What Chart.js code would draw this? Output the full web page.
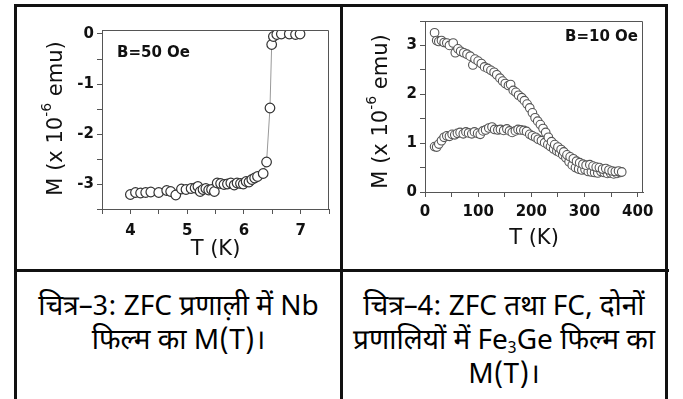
<!DOCTYPE html>
<html lang="hi">
<head>
  <meta charset="UTF-8">
  <title>M(T) – Nb और Fe3Ge फिल्म</title>
  <script src="https://cdn.jsdelivr.net/npm/chart.js"></script>
  <style>
    body {
      margin: 0;
      width: 683px;
      height: 399px;
      overflow: hidden;
      position: relative;
      background: #fff;
    }
    .frame {
      position: absolute;
      left: 14px;
      top: 4px;
      width: 648px;
      height: 400px;
      border: 3px solid #111;
      border-bottom: none;
    }
    .vline {
      position: absolute;
      left: 340px;
      top: 4px;
      width: 3px;
      height: 399px;
      background: #111;
    }
    .hline {
      position: absolute;
      left: 14px;
      top: 269px;
      width: 655px;
      height: 3px;
      background: #111;
    }
    .cell {
      position: absolute;
      top: 7px;
      height: 262px;
    }
    .cap {
      position: absolute;
      top: 291px;
      text-align: center;
      font-family: "Noto Sans Devanagari", "Lohit Devanagari", "Noto Sans", sans-serif;
      font-size: 28px;
      line-height: 34px;
      color: #000;
      white-space: nowrap;
    }
    .cap sub {
      font-size: 16px;
      line-height: 0;
      vertical-align: -4px;
    }
  </style>
</head>
<body>
  <div class="frame"></div>
  <div class="vline"></div>
  <div class="hline"></div>

  <div class="cell" style="left:17px; width:323px;"><canvas id="nbChart" width="323" height="262"></canvas></div>
  <div class="cell" style="left:343px; width:322px;"><canvas id="feChart" width="322" height="262"></canvas></div>

  <div class="cap" style="left:17px; width:323px;">चित्र–3: ZFC प्रणाल़ी में Nb<br>फिल्म का M(T)।</div>
  <div class="cap" style="left:343px; width:322px;">चित्र–4: ZFC तथा FC, दोनों<br>प्रणालियों में Fe<sub>3</sub>Ge फिल्म का<br>M(T)।</div>

  <script>
    // Nb फिल्म, ZFC, B = 50 Oe
    const nbT = [4.00, 4.09, 4.18, 4.27, 4.36, 4.50, 4.64, 4.71, 4.80, 4.90, 4.98, 5.07, 5.14, 5.19, 5.23,
                 5.28, 5.33, 5.38, 5.43, 5.48, 5.53, 5.59, 5.65, 5.71, 5.77, 5.83, 5.88, 5.94, 5.99, 6.04,
                 6.09, 6.14, 6.19, 6.24, 6.34, 6.40, 6.46, 6.49, 6.52, 6.58, 6.66, 6.80, 6.91, 6.99];
    const nbM = [-3.21, -3.17, -3.18, -3.17, -3.16, -3.17, -3.13, -3.15, -3.22, -3.10, -3.11, -3.09, -3.08, -3.05, -3.15,
                 -3.11, -3.09, -3.12, -3.11, -3.15, -2.98, -2.99, -3.01, -3.00, -2.98, -3.02, -2.98, -2.99, -3.00, -2.95,
                 -2.96, -2.91, -2.88, -2.85, -2.79, -2.56, -1.48, -0.21, -0.05, -0.01, 0.00, 0.00, -0.01, 0.00];
    const nbXTicks = [3.5, 4, 4.5, 5, 5.5, 6, 6.5, 7, 7.5];
    const nbYTicks = [-3.5, -3, -2.5, -2, -1.5, -1, -0.5, 0];

    // Fe3Ge फिल्म, FC और ZFC, B = 10 Oe
    const feFcT = [18, 22, 26, 31, 36, 41, 46, 53, 57, 62, 67, 73, 79, 85, 90, 94, 100, 106, 112, 118,
                   124, 130, 135, 141, 146, 151, 157, 161, 166, 171, 176, 182, 187, 192, 197, 202, 207, 212, 217, 222,
                   227, 232, 238, 244, 250, 256, 261, 267, 273, 279, 285, 291, 297, 303, 310, 316, 322, 328, 334, 340,
                   346, 352, 358, 364, 370];
    const feFcM = [3.26, 3.10, 3.08, 3.10, 3.06, 3.05, 3.00, 3.05, 2.85, 2.93, 2.88, 2.85, 2.82, 2.78, 2.60, 2.72, 2.68, 2.63, 2.56, 2.53,
                   2.49, 2.45, 2.40, 2.33, 2.27, 2.22, 2.18, 2.20, 2.08, 2.04, 1.98, 1.93, 1.87, 1.80, 1.72, 1.62, 1.52, 1.45, 1.38, 1.30,
                   1.22, 1.12, 1.03, 0.97, 0.92, 0.87, 0.82, 0.76, 0.72, 0.68, 0.63, 0.60, 0.57, 0.55, 0.56, 0.53, 0.51, 0.50, 0.47, 0.48,
                   0.45, 0.43, 0.42, 0.43, 0.41];
    const feZfcT = [18, 22, 26, 31, 36, 41, 46, 51, 56, 61, 66, 72, 77, 82, 88, 93, 99, 104, 109, 114,
                    120, 126, 131, 137, 142, 148, 154, 159, 164, 170, 175, 180, 186, 191, 197, 202, 208, 213, 219, 225,
                    231, 236, 242, 248, 253, 259, 265, 271, 277, 283, 289, 295, 301, 307, 313, 319, 325, 331, 337, 343,
                    349, 355, 361, 367];
    const feZfcM = [0.93, 0.92, 0.98, 1.05, 1.12, 1.15, 1.14, 1.18, 1.17, 1.20, 1.22, 1.19, 1.23, 1.21, 1.19, 1.23, 1.20, 1.18, 1.25, 1.27,
                    1.31, 1.33, 1.28, 1.27, 1.28, 1.26, 1.29, 1.25, 1.22, 1.25, 1.28, 1.27, 1.26, 1.24, 1.18, 1.15, 1.12, 1.08, 1.05, 1.01,
                    0.97, 0.93, 0.88, 0.84, 0.81, 0.76, 0.70, 0.62, 0.55, 0.50, 0.47, 0.45, 0.46, 0.42, 0.41, 0.40, 0.39, 0.42, 0.40, 0.38,
                    0.39, 0.37, 0.38, 0.40];
    const feXTicks = [0, 50, 100, 150, 200, 250, 300, 350, 400];
    const feYTicks = [0, 0.5, 1, 1.5, 2, 2.5, 3, 3.5];

    const yTitle = ['M (x 10', '-6', ' emu)'];
    const xTitle = 'T (K)';

    const pairs = (xs, ys) => xs.map((x, i) => ({ x: x, y: ys[i] }));

    // frame on top/right, the field note and the y title with its superscript
    const panelText = {
      id: 'panelText',
      afterDraw(chart, args, opts) {
        const { ctx, chartArea: a } = chart;
        ctx.save();
        ctx.strokeStyle = '#555';
        ctx.lineWidth = 1;
        ctx.beginPath();
        ctx.moveTo(a.left, a.top + 0.5);
        ctx.lineTo(a.right - 0.5, a.top + 0.5);
        ctx.lineTo(a.right - 0.5, a.bottom);
        ctx.stroke();

        ctx.fillStyle = '#111';
        ctx.font = 'bold 15px "DejaVu Sans"';
        ctx.textBaseline = 'alphabetic';
        ctx.textAlign = opts.noteAlign;
        const nx = opts.noteAlign === 'left' ? a.left + opts.noteDx : a.right - opts.noteDx;
        ctx.fillText(opts.note, nx, a.top + opts.noteDy);

        ctx.translate(a.left - opts.titleDx, (a.top + a.bottom) / 2 + opts.titleDy);
        ctx.rotate(-Math.PI / 2);
        ctx.textAlign = 'left';
        ctx.font = '21px "DejaVu Sans"';
        const w1 = ctx.measureText(yTitle[0]).width;
        const w3 = ctx.measureText(yTitle[2]).width;
        ctx.font = '14px "DejaVu Sans"';
        const w2 = ctx.measureText(yTitle[1]).width;
        let x = -(w1 + w2 + w3) / 2;
        ctx.font = '21px "DejaVu Sans"';
        ctx.fillText(yTitle[0], x, 0);
        x += w1;
        ctx.font = '14px "DejaVu Sans"';
        ctx.fillText(yTitle[1], x, -11);
        x += w2;
        ctx.font = '21px "DejaVu Sans"';
        ctx.fillText(yTitle[2], x, 0);
        ctx.restore();
      }
    };

    function axis(tickVals, labelIf, extra) {
      const cfg = Object.assign({
        type: 'linear',
        afterBuildTicks: s => { s.ticks = tickVals.map(v => ({ value: v })); },
        grid: { drawOnChartArea: false, drawTicks: true, tickLength: 5, color: '#555', lineWidth: 1 },
        border: { display: true, color: '#555', width: 1 }
      }, extra);
      cfg.ticks = Object.assign({
        autoSkip: false,
        maxRotation: 0,
        color: '#111',
        font: { family: 'DejaVu Sans', size: 15, weight: 'bold' },
        callback: v => labelIf(v) ? String(v) : ''
      }, extra.ticks || {});
      return cfg;
    }

    Chart.defaults.animation = false;

    new Chart(document.getElementById('nbChart'), {
      type: 'scatter',
      data: {
        datasets: [{
          label: 'ZFC',
          data: pairs(nbT, nbM),
          showLine: true,
          borderColor: '#999',
          borderWidth: 1,
          pointRadius: 4.8,
          pointBorderWidth: 1.2,
          pointBorderColor: '#333',
          pointBackgroundColor: '#fff'
        }]
      },
      options: {
        responsive: false,
        layout: { padding: { top: 23, right: 11, left: 0, bottom: 0 } },
        plugins: {
          legend: { display: false },
          tooltip: { enabled: false },
          panelText: { note: 'B=50 Oe', noteAlign: 'left', noteDx: 15, noteDy: 27, titleDx: 40, titleDy: -1 }
        },
        scales: {
          x: axis(nbXTicks, v => Number.isInteger(v), {
            min: 3.5, max: 7.5,
            ticks: { padding: 8 },
            afterFit: s => { s.height = 60; },
            title: { display: true, text: xTitle, color: '#111', font: { family: 'DejaVu Sans', size: 21 }, padding: { top: 0, bottom: 7 } }
          }),
          y: axis(nbYTicks, v => Number.isInteger(v), {
            min: -3.5, max: 0.08,
            afterFit: s => { s.width = 85; }
          })
        }
      },
      plugins: [panelText]
    });

    new Chart(document.getElementById('feChart'), {
      type: 'scatter',
      data: {
        datasets: [
          {
            label: 'FC',
            data: pairs(feFcT, feFcM),
            pointRadius: 4.3,
            pointBorderWidth: 1.1,
            pointBorderColor: '#555',
            pointBackgroundColor: '#fff'
          },
          {
            label: 'ZFC',
            data: pairs(feZfcT, feZfcM),
            pointRadius: 4.3,
            pointBorderWidth: 1.1,
            pointBorderColor: '#555',
            pointBackgroundColor: '#fff'
          }
        ]
      },
      options: {
        responsive: false,
        layout: { padding: { top: 14, right: 22, left: 0, bottom: 0 } },
        plugins: {
          legend: { display: false },
          tooltip: { enabled: false },
          panelText: { note: 'B=10 Oe', noteAlign: 'right', noteDx: 5, noteDy: 20, titleDx: 38, titleDy: 5 }
        },
        scales: {
          x: axis(feXTicks, v => v % 100 === 0, {
            min: 0, max: 410,
            ticks: { padding: 6 },
            afterFit: s => { s.height = 77; },
            title: { display: true, text: xTitle, color: '#111', font: { family: 'DejaVu Sans', size: 21 }, padding: { top: 0, bottom: 18 } }
          }),
          y: axis(feYTicks, v => Number.isInteger(v), {
            min: 0, max: 3.5,
            afterFit: s => { s.width = 82; }
          })
        }
      },
      plugins: [panelText]
    });
  </script>
</body>
</html>
